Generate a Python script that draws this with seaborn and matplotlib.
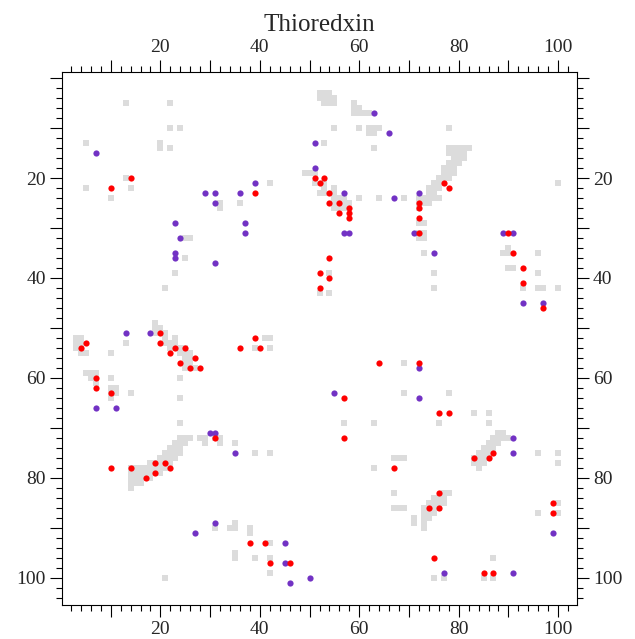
import matplotlib
matplotlib.use("Agg")
import matplotlib.pyplot as plt
import pandas as pd
import seaborn as sns
from matplotlib.ticker import MultipleLocator, FuncFormatter

# ---------------- data (residue index pairs) ----------------
# light-gray contact cells
gray_x = [13, 22, 22, 24, 5, 20, 20, 22, 13, 5, 14, 10, 32, 32, 25, 26,
          52, 53, 54, 52, 53, 54, 55, 53, 54, 55,
          59, 59, 60, 59, 60, 61, 62,
          55, 60, 62, 63, 64, 62, 63, 53, 63,
          49, 50, 51, 51, 53, 53, 52, 53,
          55, 55, 55, 56, 57, 55, 57, 58, 55, 56, 57,
          42, 36, 60, 64, 69,
          78, 79, 80, 81, 82, 78, 79, 80, 81, 79, 80, 81, 78, 79, 80, 77, 78, 79,
          77, 78, 79, 76, 77, 78, 75, 76, 77, 74, 75, 76, 74, 75,
          72, 73, 74, 75, 76, 72, 73, 74, 72, 72, 73, 72, 73, 72, 73, 78, 100, 90,
          73, 89, 90, 96, 90, 91, 75, 96, 75, 93, 96, 97, 100,
          69, 69, 78, 83, 86, 76, 86, 57, 63,
          25, 23, 21,
          19, 19, 20, 19, 21, 21, 23, 21, 22, 23, 22, 23, 24, 25, 24, 25, 26, 25, 26, 25, 26, 25, 27,
          3, 4, 3, 4, 3, 4, 4, 5, 13, 10,
          5, 6, 7, 6, 7,
          10, 10, 11, 10, 11, 10, 14, 24, 24, 24,
          54, 52, 54, 41, 42, 39, 42,
          28, 29, 29, 31, 32, 32, 35,
          24, 25, 26, 23, 24, 25, 22, 23, 24, 21, 22, 23, 24, 20, 21, 22, 23,
          18, 19, 20, 21, 22, 14, 15, 16, 17, 18, 19, 20, 21, 14, 15, 16, 17, 18, 19, 20,
          14, 15, 16, 17, 18, 14, 15, 16, 14,
          31, 34, 35, 35, 35, 21,
          39, 42, 67, 68, 63, 67, 67, 68, 38, 38, 42, 35, 39, 42, 42,
          88, 89, 87, 88, 89, 90, 86, 87, 88, 85, 86, 87, 84, 85, 86, 87,
          83, 84, 85, 86, 83, 84, 85, 84,
          69, 96, 100, 100,
          77, 78, 75, 76, 77, 74, 75, 76, 77, 73, 74, 75, 76, 73, 74, 75, 73, 74, 73, 73, 71, 71,
          69, 100, 96, 100, 87, 75, 77, 85, 87]
gray_y = [5, 5, 10, 10, 13, 13, 14, 14, 20, 22, 22, 24, 25, 26, 32, 32,
          3, 3, 3, 4, 4, 4, 4, 5, 5, 5,
          5, 6, 6, 7, 7, 7, 7,
          10, 10, 10, 10, 10, 11, 11, 13, 14,
          19, 19, 19, 21, 21, 22, 23, 23,
          22, 23, 24, 24, 24, 25, 25, 25, 26, 26, 26,
          21, 25, 24, 24, 24,
          14, 14, 14, 14, 14, 15, 15, 15, 15, 16, 16, 16, 17, 17, 17, 18, 18, 18,
          19, 19, 19, 20, 20, 20, 21, 21, 21, 22, 22, 22, 23, 23,
          24, 24, 24, 24, 24, 25, 25, 25, 26, 29, 29, 31, 31, 32, 32, 10, 21, 34,
          35, 35, 35, 35, 38, 38, 39, 39, 42, 42, 42, 42, 42,
          57, 63, 63, 67, 67, 69, 69, 69, 69,
          36, 39, 42,
          49, 50, 50, 51, 51, 52, 52, 53, 53, 53, 54, 54, 54, 54, 55, 55, 55, 56, 56, 57, 57, 58, 58,
          52, 52, 53, 53, 54, 54, 55, 55, 53, 55,
          59, 59, 59, 60, 61,
          60, 62, 62, 63, 63, 64, 63, 60, 64, 69,
          39, 43, 43, 52, 52, 54, 54,
          72, 72, 73, 72, 72, 73, 73,
          72, 72, 72, 73, 73, 73, 74, 74, 74, 75, 75, 75, 75, 76, 76, 76, 76,
          77, 77, 77, 77, 77, 78, 78, 78, 78, 78, 78, 78, 78, 79, 79, 79, 79, 79, 79, 79,
          80, 80, 80, 80, 80, 81, 81, 81, 82,
          90, 90, 89, 90, 95, 100,
          75, 75, 76, 76, 78, 83, 86, 86, 90, 91, 93, 96, 96, 96, 99,
          71, 71, 72, 72, 72, 72, 73, 73, 73, 74, 74, 74, 75, 75, 75, 75,
          76, 76, 76, 76, 77, 77, 77, 78,
          76, 75, 75, 77,
          83, 83, 84, 84, 84, 85, 85, 85, 85, 86, 86, 86, 86, 87, 87, 87, 88, 88, 89, 90, 88, 89,
          86, 85, 87, 87, 96, 100, 100, 100, 100]

# red contacts
red_x = [14, 10, 51, 53, 52, 54, 54, 56, 58, 56, 58, 58, 39, 77, 78, 72, 72, 72, 72, 90,
         91, 93, 93, 97, 72, 76, 78, 20, 20, 23, 25, 22, 27, 24, 26, 28, 5, 4, 7, 7,
         10, 54, 52, 54, 52, 39, 36, 40, 64, 57, 57, 31, 10, 14, 17, 19, 21, 19, 22, 67,
         38, 41, 42, 46, 83, 86, 87, 76, 74, 76, 99, 99, 75, 85, 87]
red_y = [20, 22, 20, 20, 21, 23, 25, 25, 26, 27, 27, 28, 23, 21, 22, 25, 26, 28, 31, 31,
         35, 38, 41, 46, 57, 67, 67, 51, 53, 54, 54, 55, 56, 57, 58, 58, 53, 54, 60, 62,
         63, 36, 39, 40, 42, 52, 54, 54, 57, 64, 72, 72, 78, 78, 80, 77, 77, 79, 78, 78,
         93, 93, 97, 97, 76, 76, 75, 83, 86, 86, 85, 87, 96, 99, 99]

# purple contacts
purple_x = [7, 29, 31, 31, 23, 24, 63, 66, 51, 51, 57, 67, 36, 39, 37, 37, 57, 58, 72, 71,
            89, 91, 75, 93, 97, 72, 72, 23, 23, 31, 18, 13, 7, 11, 55, 30, 31, 35, 31, 27,
            45, 45, 46, 50, 91, 91, 99, 77, 91]
purple_y = [15, 23, 23, 25, 29, 32, 7, 11, 13, 18, 23, 24, 23, 21, 29, 31, 31, 31, 23, 31,
            31, 31, 35, 45, 45, 58, 64, 35, 36, 37, 51, 51, 66, 66, 63, 71, 71, 75, 89, 91,
            93, 97, 101, 100, 72, 75, 91, 99, 99]

title = "Thioredxin"
tick_step_major = 10
tick_step_minor = 2
label_every = 20

# ---------------- plotting ----------------
sns.set_style("white")
plt.rcParams["font.family"] = ["Liberation Serif", "DejaVu Serif"]

gray_df = pd.DataFrame({"x": gray_x, "y": gray_y})
red_df = pd.DataFrame({"x": red_x, "y": red_y})
purple_df = pd.DataFrame({"x": purple_x, "y": purple_y})

W, H = 635, 639
fig = plt.figure(figsize=(W / 100, H / 100), dpi=100)
ax = fig.add_axes([62 / W, 1 - 605 / H, 515 / W, 533 / H])

sns.scatterplot(data=gray_df, x="x", y="y", marker="s", s=15, color="#DCDCDC",
                linewidth=0, ax=ax, zorder=1)
sns.scatterplot(data=purple_df, x="x", y="y", marker="o", s=20, color="#7232C4",
                linewidth=0, ax=ax, zorder=3)
sns.scatterplot(data=red_df, x="x", y="y", marker="o", s=20, color="#FF0000",
                linewidth=0, ax=ax, zorder=3)

ax.set_xlim(0.2, 103.8)
ax.set_ylim(105.5, -1.25)
ax.set_xlabel("")
ax.set_ylabel("")

fmt = FuncFormatter(lambda v, p: f"{int(round(v))}" if (round(v) % label_every == 0 and round(v) > 0) else "")
for axis in (ax.xaxis, ax.yaxis):
    axis.set_major_locator(MultipleLocator(tick_step_major))
    axis.set_minor_locator(MultipleLocator(tick_step_minor))
    axis.set_major_formatter(fmt)

ax.tick_params(which="both", direction="out", top=True, right=True, bottom=True, left=True,
               labeltop=True, labelright=True, labelbottom=True, labelleft=True,
               color="black", width=0.8, labelsize=14)
ax.tick_params(which="major", length=8.5, pad=3)
ax.tick_params(which="minor", length=4.5)

for sp in ax.spines.values():
    sp.set_color("black")
    sp.set_linewidth(0.8)

fig.text(319.5 / W, 1 - 31 / H, title, ha="center", va="baseline", fontsize=18)

fig.savefig("out.png", dpi=100)
